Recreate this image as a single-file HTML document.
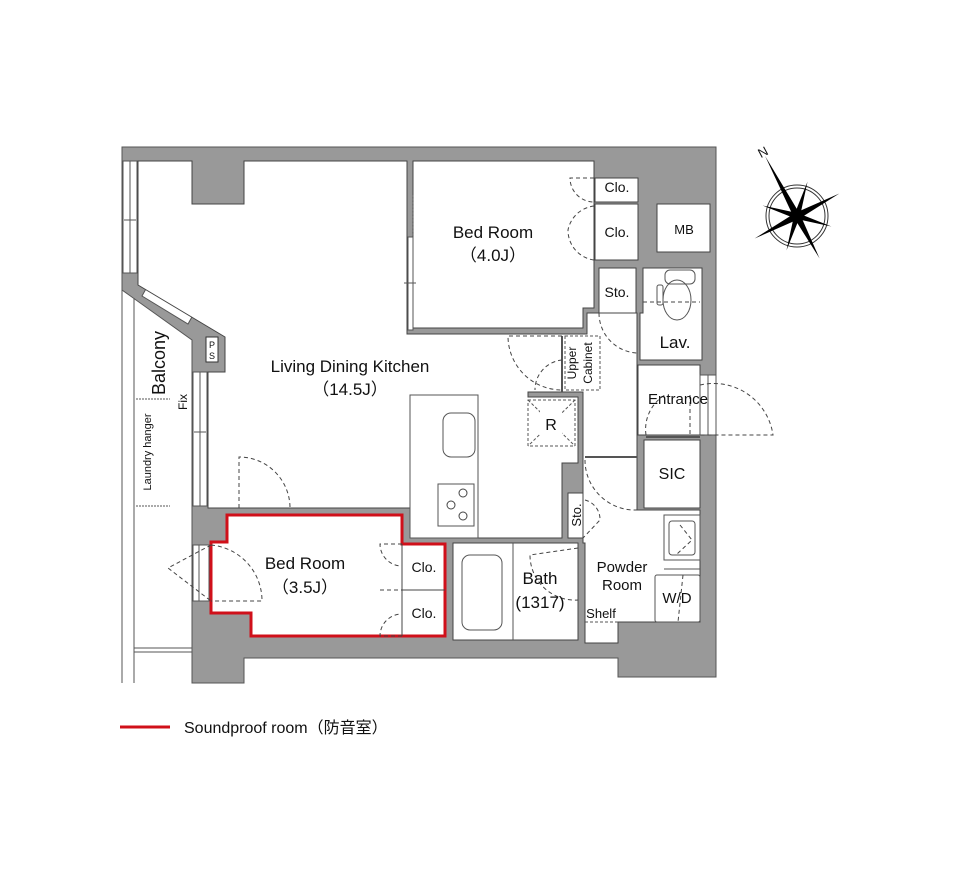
<!DOCTYPE html>
<html><head><meta charset="utf-8"><style>
html,body{margin:0;padding:0;background:#fff;}
svg{display:block;}
text{font-family:"Liberation Sans","Noto Sans CJK JP",sans-serif;fill:#111;}
</style></head><body>
<svg width="960" height="880" viewBox="0 0 960 880" xmlns="http://www.w3.org/2000/svg">
<polygon points="122,147 716,147 716,677 618,677 618,658 244,658 244,683 192,683 192,340 122,290" fill="#999" stroke="#555" stroke-width="1"/>
<rect x="123" y="161" width="14" height="112" fill="#fff" stroke="#555" stroke-width="1"/>
<line x1="130" y1="161" x2="130" y2="273" stroke="#555"/>
<line x1="124" y1="220" x2="136" y2="220" stroke="#555"/>
<polygon points="142,296 147,287 193,315 188,324" fill="#fff" stroke="#555"/>
<rect x="206" y="337" width="12" height="25" fill="#fff" stroke="#333"/>
<text x="212" y="348" font-size="9" text-anchor="middle">P</text>
<text x="212" y="359" font-size="9" text-anchor="middle">S</text>
<polygon points="138,161 192,161 192,204 244,204 244,161 407,161 407,334 587,334 587,313 637,313 637,510 700,510 700,622 618,622 618,643 585,643 585,543 583,543 583,392 528,392 528,397 578,397 578,463 562,463 562,538 410,538 410,508 208,508 208,372 225,372 225,337 138,285" fill="#fff" stroke="#444" stroke-width="1"/>
<rect x="193" y="372" width="14" height="134" fill="#fff" stroke="#555"/>
<line x1="200" y1="372" x2="200" y2="506" stroke="#555"/>
<line x1="194" y1="432" x2="206" y2="432" stroke="#555"/>
<polygon points="413,161 594,161 594,308 583,308 583,328 413,328" fill="#fff" stroke="#444"/>
<rect x="408" y="237" width="5" height="93" fill="#fff" stroke="#555"/>
<line x1="413" y1="195" x2="413" y2="237" stroke="#555" stroke-dasharray="2,1.5"/>
<line x1="404" y1="283" x2="416" y2="283" stroke="#555"/>
<rect x="595" y="178" width="43" height="24" fill="#fff" stroke="#444"/>
<rect x="595" y="204" width="43" height="56" fill="#fff" stroke="#444"/>
<rect x="657" y="204" width="53" height="48" fill="#fff" stroke="#444"/>
<line x1="710" y1="204" x2="710" y2="252" stroke="#444"/>
<rect x="599" y="268" width="37" height="45" fill="#fff" stroke="#444"/>
<polygon points="643,268 702,268 702,360 640,360 640,313 643,313" fill="#fff" stroke="#444"/>
<rect x="638" y="365" width="62" height="70" fill="#fff" stroke="#444"/>
<rect x="700" y="375" width="16" height="60" fill="#fff" stroke="#555"/>
<line x1="708" y1="375" x2="708" y2="435" stroke="#555"/>
<rect x="644" y="440" width="56" height="68" fill="#fff" stroke="#444"/>
<rect x="664" y="515" width="36" height="45" fill="#fff" stroke="#555"/>
<rect x="669" y="521" width="26" height="34" rx="3" fill="none" stroke="#555"/>
<rect x="655" y="575" width="45" height="47" rx="2" fill="#fff" stroke="#555"/>
<line x1="700" y1="569" x2="664" y2="569" stroke="#555"/>
<line x1="585" y1="622" x2="618" y2="622" stroke="#555" stroke-dasharray="3,2"/>
<rect x="568" y="493" width="15" height="45" fill="#fff" stroke="#444"/>
<rect x="453" y="543" width="125" height="97" fill="#fff" stroke="#444"/>
<line x1="513" y1="543" x2="513" y2="640" stroke="#555"/>
<rect x="462" y="555" width="40" height="75" rx="8" fill="none" stroke="#555"/>
<polygon points="227,515 402,515 402,544 445,544 445,636 251,636 251,613 211,613 211,542 227,542" fill="#fff" stroke="#d0101a" stroke-width="3"/>
<line x1="402" y1="544" x2="402" y2="636" stroke="#444"/>
<line x1="402" y1="590" x2="445" y2="590" stroke="#444"/>
<rect x="193" y="545" width="16" height="56" fill="#fff" stroke="#555"/>
<line x1="199" y1="545" x2="199" y2="601" stroke="#555"/>
<line x1="122" y1="290" x2="122" y2="683" stroke="#555"/>
<line x1="134" y1="298" x2="134" y2="683" stroke="#555"/>
<line x1="134" y1="648" x2="192" y2="648" stroke="#555"/>
<line x1="134" y1="652" x2="192" y2="652" stroke="#555"/>
<line x1="136" y1="399" x2="170" y2="399" stroke="#555" stroke-dasharray="2,1"/>
<line x1="136" y1="506" x2="170" y2="506" stroke="#555" stroke-dasharray="2,1"/>
<rect x="410" y="395" width="68" height="143" fill="#fff" stroke="#555"/>
<rect x="443" y="413" width="32" height="44" rx="8" fill="none" stroke="#555"/>
<rect x="438" y="484" width="36" height="42" fill="#fff" stroke="#555"/>
<circle cx="463" cy="493" r="4" fill="none" stroke="#444"/>
<circle cx="451" cy="505" r="4" fill="none" stroke="#444"/>
<circle cx="463" cy="516" r="4" fill="none" stroke="#444"/>
<rect x="528" y="400" width="47" height="46" fill="none" stroke="#555" stroke-dasharray="3,2"/>
<line x1="528" y1="400" x2="575" y2="446" stroke="#555" stroke-dasharray="3,2"/>
<line x1="575" y1="400" x2="528" y2="446" stroke="#555" stroke-dasharray="3,2"/>
<rect x="540" y="410" width="22" height="24" fill="#fff"/>
<rect x="565" y="336" width="35" height="54" fill="none" stroke="#555" stroke-dasharray="3,2"/>
<line x1="562" y1="336" x2="562" y2="392" stroke="#555" stroke-width="2"/>
<rect x="665" y="270" width="30" height="14" rx="5" fill="none" stroke="#555"/>
<ellipse cx="677" cy="300" rx="14" ry="20" fill="none" stroke="#555"/>
<rect x="657" y="285" width="6" height="20" rx="2" fill="none" stroke="#555"/>
<g fill="none" stroke="#444" stroke-dasharray="4,3" stroke-width="1">
<path d="M239,508 L239,457 A51,51 0 0 1 290,508"/>
<path d="M211,545 L168,568 L211,601"/>
<path d="M211,545 A56,56 0 0 1 262,601 L211,601"/>
<path d="M402,544 L380,544 A22,22 0 0 0 402,566"/>
<path d="M402,636 L380,636 A22,22 0 0 1 402,614"/>
<path d="M380,590 L402,590"/>
<path d="M594,178 L570,178 A24,24 0 0 0 594,202"/>
<path d="M594,206 A30,30 0 0 0 568,230 A30,30 0 0 0 594,260"/>
<path d="M562,336 L508,336 A54,54 0 0 0 562,390"/>
<path d="M562,360 A30,30 0 0 0 535,390"/>
<path d="M599,313 A40,40 0 0 0 637,353 L637,313"/>
<path d="M643,302 L700,302"/>
<path d="M700,385 A60,60 0 0 1 773,435 L700,435"/>
<path d="M646,435 A40,40 0 0 1 665,395"/>
<path d="M690,395 L690,435"/>
<path d="M585,460 A50,50 0 0 0 637,510"/>
<path d="M585,500 A20,20 0 0 1 600,520 L583,538"/>
<path d="M578,548 L530,555 A45,45 0 0 0 578,600"/>
<path d="M680,525 L692,540 L676,555"/>
<path d="M683,575 L678,622"/>
</g>
<line x1="585" y1="457" x2="637" y2="457" stroke="#555" stroke-width="2"/>
<line x1="646" y1="437" x2="700" y2="437" stroke="#555" stroke-width="2"/>
<text x="493" y="238" font-size="17" text-anchor="middle">Bed Room</text>
<text x="493" y="261" font-size="17" text-anchor="middle">（4.0J）</text>
<text x="350" y="372" font-size="17" text-anchor="middle">Living Dining Kitchen</text>
<text x="350" y="395" font-size="17" text-anchor="middle">（14.5J）</text>
<text x="305" y="569" font-size="17" text-anchor="middle">Bed Room</text>
<text x="305" y="593" font-size="17" text-anchor="middle">（3.5J）</text>
<text x="540" y="584" font-size="17" text-anchor="middle">Bath</text>
<text x="540" y="608" font-size="17" text-anchor="middle">(1317)</text>
<text x="617" y="192" font-size="14" text-anchor="middle">Clo.</text>
<text x="617" y="237" font-size="14" text-anchor="middle">Clo.</text>
<text x="684" y="234" font-size="13" text-anchor="middle">MB</text>
<text x="617" y="297" font-size="14" text-anchor="middle">Sto.</text>
<text x="675" y="348" font-size="17" text-anchor="middle">Lav.</text>
<text x="678" y="404" font-size="15" text-anchor="middle">Entrance</text>
<text x="672" y="479" font-size="16" text-anchor="middle">SIC</text>
<text x="551" y="430" font-size="16" text-anchor="middle">R</text>
<text x="622" y="572" font-size="15" text-anchor="middle">Powder</text>
<text x="622" y="590" font-size="15" text-anchor="middle">Room</text>
<text x="601" y="618" font-size="13" text-anchor="middle">Shelf</text>
<text x="677" y="603" font-size="15" text-anchor="middle">W/D</text>
<text x="424" y="572" font-size="14" text-anchor="middle">Clo.</text>
<text x="424" y="618" font-size="14" text-anchor="middle">Clo.</text>
<text transform="translate(581,515) rotate(-90)" font-size="13" text-anchor="middle">Sto.</text>
<text transform="translate(576,363) rotate(-90)" font-size="12" text-anchor="middle">Upper</text>
<text transform="translate(592,363) rotate(-90)" font-size="12" text-anchor="middle">Cabinet</text>
<text transform="translate(165,363) rotate(-90)" font-size="18" text-anchor="middle">Balcony</text>
<text transform="translate(187,402) rotate(-90)" font-size="12" text-anchor="middle">Fix</text>
<text transform="translate(151,452) rotate(-90)" font-size="11" text-anchor="middle">Laundry hanger</text>
<g transform="translate(797,216)">
<circle r="31" fill="none" stroke="#333" stroke-width="1"/>
<circle r="28" fill="none" stroke="#333" stroke-width="1"/>
<g transform="rotate(-28)">
<polygon points="0,-68 3.5,0 0,48 -3.5,0" fill="#000"/>
<polygon points="-48,0 0,3.5 48,0 0,-3.5" fill="#000"/>
<g transform="rotate(45)">
<polygon points="0,-36 3,0 0,36 -3,0" fill="#000"/>
<polygon points="-36,0 0,3 36,0 0,-3" fill="#000"/>
</g>
</g>
<text transform="translate(-32,-60) rotate(-28)" font-size="13" font-family="Liberation Serif" text-anchor="middle">N</text>
</g>
<line x1="120" y1="727" x2="170" y2="727" stroke="#d0101a" stroke-width="3"/>
<text x="184" y="733" font-size="16">Soundproof room（防音室）</text>
</svg>
</body></html>
